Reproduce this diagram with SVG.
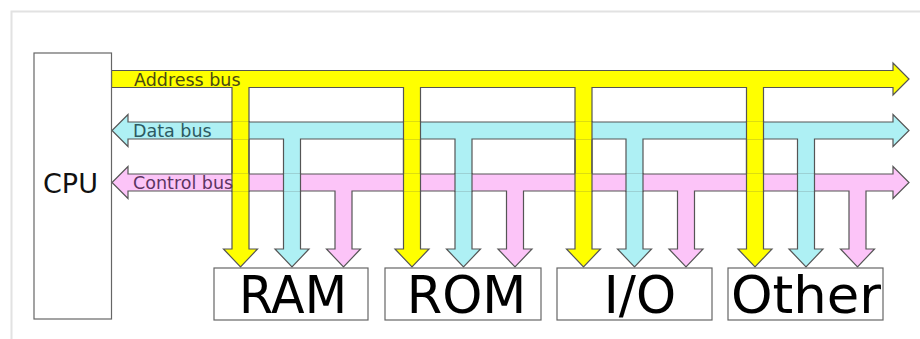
<svg xmlns="http://www.w3.org/2000/svg" width="920" height="339" viewBox="0 0 920 339">
<style>
.box{fill:#fff;stroke:#666;stroke-width:1.2}
.bus{stroke:#555;stroke-width:1.2;stroke-linejoin:miter}
.addr{fill:#ffff00}
.data{fill:#aef0f4}
.ctrl{fill:#fcc4f8}
.lbl{font-family:"DejaVu Sans",sans-serif;font-size:17.5px}
.big{font-family:"DejaVu Sans",sans-serif;font-size:51px;fill:#000}
</style>
<rect width="920" height="339" fill="#fff"/>
<polyline points="11.5,339 11.5,11.5 920,11.5" fill="none" stroke="#e2e2e2" stroke-width="2"/>
<g id="connectors">
<path id="address-bus" class="bus addr" d="M111.5,70.5 L893,70.5 L893,63 L909,79 L893,95 L893,87.5
L763.5,87.5 L763.5,249 L772,249 L755,267 L738,249 L746.5,249 L746.5,87.5
L592,87.5 L592,249 L600.5,249 L583.5,267 L566.5,249 L575,249 L575,87.5
L420.5,87.5 L420.5,249 L429,249 L412,267 L395,249 L403.5,249 L403.5,87.5
L249,87.5 L249,249 L257.5,249 L240.5,267 L223.5,249 L232,249 L232,87.5
L111.5,87.5 Z"/>
<path id="data-bus" class="bus data" d="M128,122 L893,122 L893,114.5 L909,130.5 L893,146.5 L893,139
L814.5,139 L814.5,249 L823,249 L806,267 L789,249 L797.5,249 L797.5,139
L643,139 L643,249 L651.5,249 L634.5,267 L617.5,249 L626,249 L626,139
L472,139 L472,249 L480.5,249 L463.5,267 L446.5,249 L455,249 L455,139
L300.5,139 L300.5,249 L309,249 L292,267 L275,249 L283.5,249 L283.5,139
L128,139 L128,146.5 L112,130.5 L128,114.5 Z"/>
<path id="control-bus" class="bus ctrl" d="M128,174 L893,174 L893,166.5 L909,182.5 L893,198.5 L893,191
L866,191 L866,249 L874.5,249 L857.5,267 L840.5,249 L849,249 L849,191
L694.5,191 L694.5,249 L703,249 L686,267 L669,249 L677.5,249 L677.5,191
L523.5,191 L523.5,249 L532,249 L515,267 L498,249 L506.5,249 L506.5,191
L352,191 L352,249 L360.5,249 L343.5,267 L326.5,249 L335,249 L335,191
L128,191 L128,198.5 L112,182.5 L128,166.5 Z"/>
<g class="data">
<rect x="283.5" y="173.4" width="17" height="18.2"/>
<rect x="455" y="173.4" width="17" height="18.2"/>
<rect x="626" y="173.4" width="17" height="18.2"/>
<rect x="797.5" y="173.4" width="17" height="18.2"/>
</g>
<g class="bus" fill="none">
<path d="M283.5,173 V192 M300.5,173 V192 M455,173 V192 M472,173 V192 M626,173 V192 M643,173 V192 M797.5,173 V192 M814.5,173 V192"/>
</g>
<g class="addr">
<rect x="232" y="121.4" width="17" height="18.2"/>
<rect x="403.5" y="121.4" width="17" height="18.2"/>
<rect x="575" y="121.4" width="17" height="18.2"/>
<rect x="746.5" y="121.4" width="17" height="18.2"/>
<rect x="232" y="173.4" width="17" height="18.2"/>
<rect x="403.5" y="173.4" width="17" height="18.2"/>
<rect x="575" y="173.4" width="17" height="18.2"/>
<rect x="746.5" y="173.4" width="17" height="18.2"/>
</g>
<g class="bus" fill="none">
<path d="M232,121 V192 M249,121 V192 M403.5,121 V192 M420.5,121 V192 M575,121 V192 M592,121 V192 M746.5,121 V192 M763.5,121 V192"/>
</g>
<text class="lbl" x="134" y="86" fill="#4a4a12">Address bus</text>
<text class="lbl" x="133" y="137" fill="#2c5a62">Data bus</text>
<text class="lbl" x="133" y="188.5" fill="#5c3462">Control bus</text>
</g>
<g id="cpu">
<rect class="box" x="34" y="53" width="77.5" height="266"/>
<text x="43" y="193" font-family="DejaVu Sans, sans-serif" font-size="27" fill="#111">CPU</text>
</g>
<g id="ram">
<rect class="box" x="214" y="268" width="154" height="52"/>
<text class="big" x="293" y="313" text-anchor="middle" textLength="108" lengthAdjust="spacingAndGlyphs">RAM</text>
</g>
<g id="rom">
<rect class="box" x="385" y="268" width="156" height="52"/>
<text class="big" x="466.5" y="313" text-anchor="middle">ROM</text>
</g>
<g id="io">
<rect class="box" x="557" y="268" width="155" height="52"/>
<text class="big" x="640" y="313" text-anchor="middle">I/O</text>
</g>
<g id="other">
<rect class="box" x="728" y="268" width="155" height="52"/>
<text class="big" x="731" y="313" textLength="150" lengthAdjust="spacingAndGlyphs">Other</text>
</g>
</svg>
